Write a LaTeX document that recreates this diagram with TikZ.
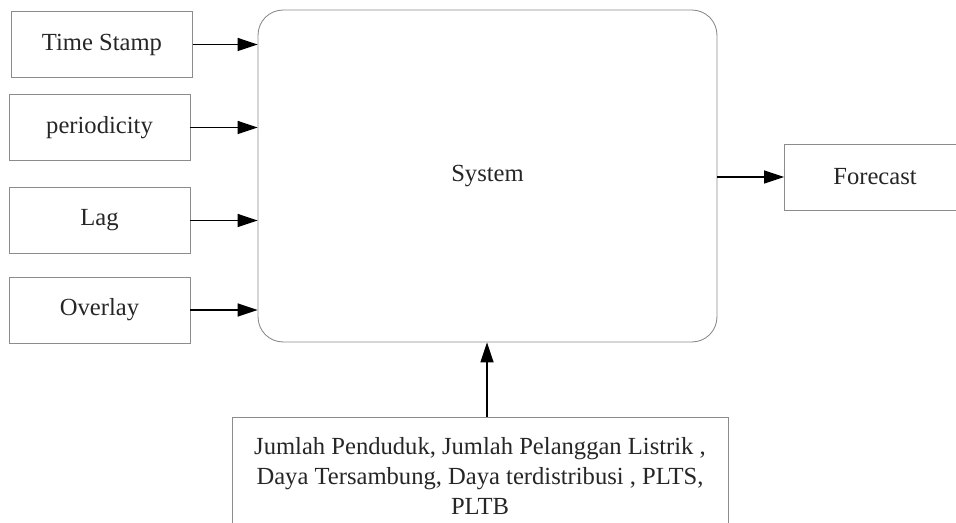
\documentclass[tikz,border=0pt]{standalone}
\usepackage{fontspec}
\setmainfont{Liberation Serif}
\usetikzlibrary{arrows.meta}
\definecolor{boxgray}{gray}{0.55}
\definecolor{textgray}{gray}{0.15}

\begin{document}
\begin{tikzpicture}[x=0.02cm,y=-0.02cm,
every node/.style={textgray,font=\fontsize{14}{17}\selectfont},
inbox/.style={draw=boxgray,line width=0.5pt,minimum width=3.62cm,minimum height=1.32cm},
feed/.style={black,line width=0.9pt,-{Triangle[length=4mm,width=2.6mm]}}]
\useasboundingbox (0,0) rectangle (956,523);
\node [inbox] (stamp) at (102,44.5) {Time Stamp};
\node [inbox] (period) at (99.5,127.5) {periodicity};
\node [inbox] (lag) at (99.5,220.5) {Lag};
\node [inbox] (overlay) at (99.5,310) {Overlay};
\node [draw=boxgray,line width=0.5pt,rounded corners=0.5cm,
  minimum width=9.18cm,minimum height=6.64cm] (system) at (487.5,176) {System};
\node [inbox] (forecast) at (875,177) {Forecast};
\node [inbox,minimum width=9.92cm,minimum height=2.36cm,align=center] (params) at (480,476)
  {Jumlah Penduduk, Jumlah Pelanggan Listrik ,\\
   Daya Tersambung, Daya terdistribusi , PLTS,\\
   PLTB};
\draw [feed] (stamp.east) -- (stamp.east -| system.west);
\draw [feed] (period.east) -- (period.east -| system.west);
\draw [feed] (lag.east) -- (lag.east -| system.west);
\draw [feed] (overlay.east) -- (overlay.east -| system.west);
\draw [feed] (system.east |- forecast.west) -- (forecast.west);
\draw [feed] (params.north -| 487,0) -- (system.south -| 487,0);
\end{tikzpicture}
\end{document}
